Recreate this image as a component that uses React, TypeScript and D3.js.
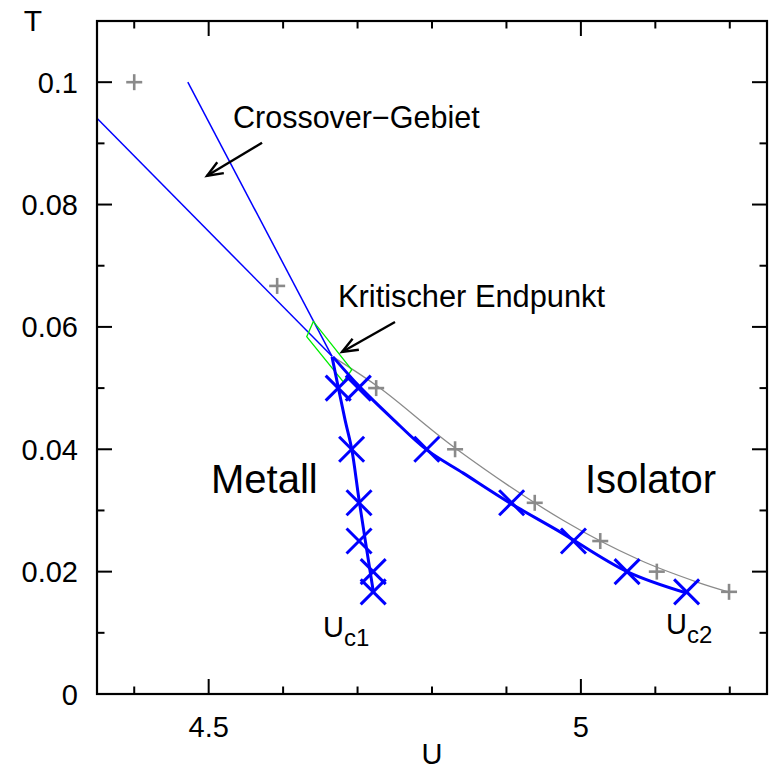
import React from "react";
import * as d3 from "d3";

// ---- data (U, T) ----
const grayPlus: [number, number][] = [
  [4.4, 0.1], [4.592, 0.0667], [4.725, 0.05], [4.831, 0.04],
  [4.938, 0.03125], [5.026, 0.025], [5.102, 0.02], [5.199, 0.0167],
];
const grayCurve: [number, number][] = [
  [4.667, 0.0551], [4.73, 0.05], [4.831, 0.0402], [4.976, 0.0284],
  [5.079, 0.0219], [5.156, 0.0183], [5.198, 0.0167],
];
const uc1Marks: [number, number][] = [
  [4.674, 0.05], [4.692, 0.04], [4.702, 0.03125], [4.702, 0.025], [4.721, 0.02], [4.721, 0.0167],
];
const uc2Marks: [number, number][] = [
  [4.701, 0.05], [4.793, 0.04], [4.907, 0.03125], [4.99, 0.025], [5.062, 0.02], [5.142, 0.0167],
];
const uc1Line: [number, number][] = [
  [4.6657, 0.0551], [4.6832, 0.0448], [4.6922, 0.04], [4.7024, 0.0314], [4.7212, 0.0167],
];
const uc2Line: [number, number][] = [
  [4.667, 0.0551], [4.703, 0.0502], [4.746, 0.0451], [4.793, 0.0399], [4.842, 0.0361],
  [4.905, 0.0312], [4.972, 0.0265], [5.062, 0.02], [5.142, 0.0165],
];
const crossoverA: [number, number][] = [[4.35, 0.0941], [4.6657, 0.0552]];
const crossoverB: [number, number][] = [[4.472, 0.1], [4.6657, 0.0552]];
const criticalBox: [number, number][] = [
  [4.6406, 0.0609], [4.6317, 0.0584], [4.6809, 0.051], [4.6922, 0.053],
];
const arrows: { from: [number, number]; to: [number, number] }[] = [
  { from: [4.5717, 0.0901], to: [4.4978, 0.0847] },
  { from: [4.7503, 0.0608], to: [4.6791, 0.0559] },
];
const xMajor = [4.5, 5.0];
const xMajorLabels = ["4.5", "5"];
const xMinor = [4.4, 4.6, 4.7, 4.8, 4.9, 5.1, 5.2];
const yMajor = [0, 0.02, 0.04, 0.06, 0.08, 0.1];
const yMajorLabels = ["0", "0.02", "0.04", "0.06", "0.08", "0.1"];
const yMinor = [0.01, 0.03, 0.05, 0.07, 0.09];

const W = 776, H = 770;
const L = 97, R = 767, T0 = 21, B = 694;
const FONT = "'Liberation Sans', Arial, Helvetica, sans-serif";

export default function App() {
  const x = d3.scaleLinear().domain([4.35, 5.25]).range([L, R]);
  const y = d3.scaleLinear().domain([0, 0.11]).range([B, T0]);
  const line = d3.line<[number, number]>().x((d) => x(d[0])).y((d) => y(d[1]));
  const smooth = d3
    .line<[number, number]>()
    .x((d) => x(d[0]))
    .y((d) => y(d[1]))
    .curve(d3.curveCatmullRom.alpha(0.5));

  const maj = 15, mnr = 7.5;

  const plus = (d: [number, number], i: number) => {
    const cx = x(d[0]), cy = y(d[1]), s = 8;
    return (
      <g key={"p" + i} stroke="#8a8a8a" strokeWidth={2.6}>
        <line x1={cx - s} x2={cx + s} y1={cy} y2={cy} />
        <line x1={cx} x2={cx} y1={cy - s} y2={cy + s} />
      </g>
    );
  };
  const cross = (d: [number, number], i: number, k: string) => {
    const cx = x(d[0]), cy = y(d[1]), s = 12.5;
    return (
      <g key={k + i} stroke="#0000ff" strokeWidth={3}>
        <line x1={cx - s} x2={cx + s} y1={cy - s} y2={cy + s} />
        <line x1={cx - s} x2={cx + s} y1={cy + s} y2={cy - s} />
      </g>
    );
  };
  const arrow = (a: { from: [number, number]; to: [number, number] }, i: number) => {
    const x1 = x(a.from[0]), y1 = y(a.from[1]), x2 = x(a.to[0]), y2 = y(a.to[1]);
    const ang = Math.atan2(y2 - y1, x2 - x1);
    const hl = 17, ha = (22 * Math.PI) / 180;
    const p1 = [x2 - hl * Math.cos(ang - ha), y2 - hl * Math.sin(ang - ha)];
    const p2 = [x2 - hl * Math.cos(ang + ha), y2 - hl * Math.sin(ang + ha)];
    return (
      <g key={"a" + i} stroke="#000" strokeWidth={2.4} fill="none">
        <line x1={x1} y1={y1} x2={x2} y2={y2} />
        <polyline points={`${p1[0]},${p1[1]} ${x2},${y2} ${p2[0]},${p2[1]}`} />
      </g>
    );
  };

  return (
    <svg
      width={W}
      height={H}
      style={{ position: "absolute", left: 0, top: 0, background: "#fff" }}
      fontFamily={FONT}
    >
      <rect x={0} y={0} width={W} height={H} fill="#fff" />
      {/* ticks */}
      <g stroke="#000" strokeWidth={2}>
        {xMajor.map((v, i) => (
          <g key={"xm" + i}>
            <line x1={x(v)} x2={x(v)} y1={B} y2={B - maj} />
            <line x1={x(v)} x2={x(v)} y1={T0} y2={T0 + maj} />
          </g>
        ))}
        {xMinor.map((v, i) => (
          <g key={"xn" + i}>
            <line x1={x(v)} x2={x(v)} y1={B} y2={B - mnr} />
            <line x1={x(v)} x2={x(v)} y1={T0} y2={T0 + mnr} />
          </g>
        ))}
        {yMajor.map((v, i) => (
          <g key={"ym" + i}>
            <line x1={L} x2={L + maj} y1={y(v)} y2={y(v)} />
            <line x1={R} x2={R - maj} y1={y(v)} y2={y(v)} />
          </g>
        ))}
        {yMinor.map((v, i) => (
          <g key={"yn" + i}>
            <line x1={L} x2={L + mnr} y1={y(v)} y2={y(v)} />
            <line x1={R} x2={R - mnr} y1={y(v)} y2={y(v)} />
          </g>
        ))}
      </g>
      {/* tick labels */}
      <g fontSize={29} fill="#000">
        {yMajor.map((v, i) => (
          <text key={"yl" + i} x={78} y={y(v) + 10.5} textAnchor="end">
            {yMajorLabels[i]}
          </text>
        ))}
        {xMajor.map((v, i) => (
          <text key={"xl" + i} x={x(v)} y={737} textAnchor="middle">
            {xMajorLabels[i]}
          </text>
        ))}
      </g>
      <text x={432} y={764} fontSize={29} textAnchor="middle">U</text>
      <text x={33} y={31} fontSize={30} textAnchor="middle">T</text>

      {/* data */}
      <path d={smooth(grayCurve) || ""} fill="none" stroke="#8a8a8a" strokeWidth={1.3} />
      <path d={line(crossoverA) || ""} fill="none" stroke="#0000ff" strokeWidth={1.5} />
      <path d={line(crossoverB) || ""} fill="none" stroke="#0000ff" strokeWidth={1.5} />
      <polygon
        points={criticalBox.map((d) => `${x(d[0])},${y(d[1])}`).join(" ")}
        fill="none"
        stroke="#00ee00"
        strokeWidth={1.3}
      />
      <path d={smooth(uc1Line) || ""} fill="none" stroke="#0000ff" strokeWidth={3} />
      <path d={smooth(uc2Line) || ""} fill="none" stroke="#0000ff" strokeWidth={3} />
      {grayPlus.map(plus)}
      {uc1Marks.map((d, i) => cross(d, i, "c1"))}
      {uc2Marks.map((d, i) => cross(d, i, "c2"))}
      {arrows.map(arrow)}

      {/* annotations */}
      <text x={233} y={128} fontSize={30.5}>Crossover−Gebiet</text>
      <text x={338} y={307} fontSize={30.8}>Kritischer Endpunkt</text>
      <text x={211} y={493} fontSize={40}>Metall</text>
      <text x={585} y={493} fontSize={40}>Isolator</text>
      <text x={323} y={637} fontSize={29}>
        U<tspan fontSize={24} dy={9}>c1</tspan>
      </text>
      <text x={666} y={634} fontSize={29}>
        U<tspan fontSize={24} dy={9}>c2</tspan>
      </text>

      {/* frame */}
      <rect x={L} y={T0} width={R - L} height={B - T0} fill="none" stroke="#000" strokeWidth={2.2} />
    </svg>
  );
}
